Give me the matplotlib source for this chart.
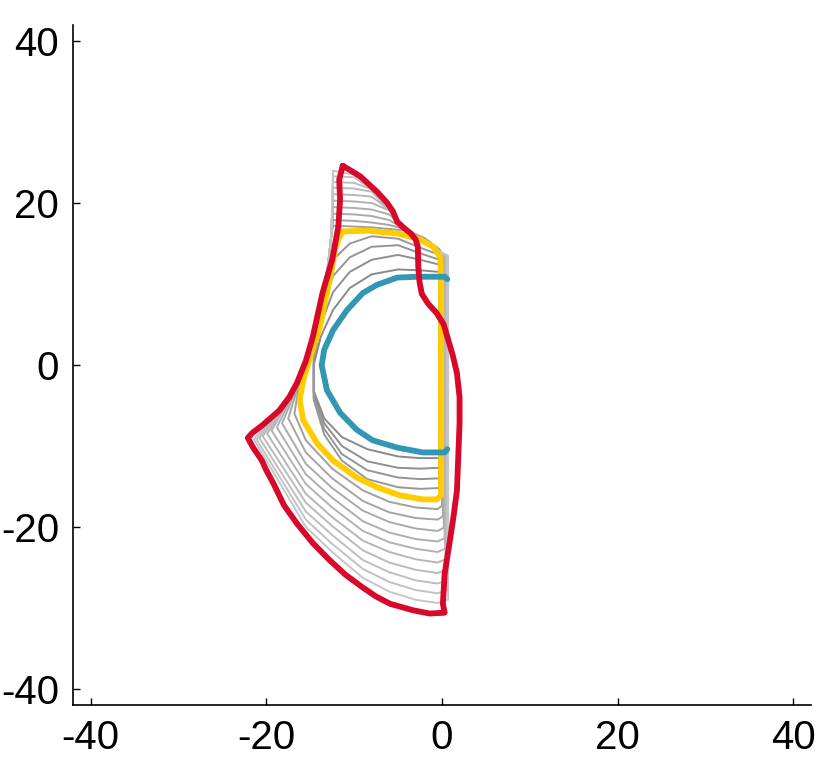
import matplotlib
matplotlib.use("Agg")
import matplotlib.pyplot as plt

plt.rcParams['font.family'] = ['Liberation Sans', 'DejaVu Sans']
plt.rcParams['axes.unicode_minus'] = False

# coloured contours (x, y)
red_x = [-11.3, -10.5, -9.3, -7.4, -6.3, -5.6, -5.1, -4.3, -3.6, -3.0, -2.75, -2.7, -2.55, -2.3, -1.6, -0.6, 0.2, 0.6, 1.2,
         1.7, 2.0, 2.0, 1.7, 1.3, 0.9, 0.3, 0.1, 0.3,
         -1.4, -3.3, -5.9, -7.5, -9.0, -11.0, -12.8, -14.7, -16.5, -18.0, -19.2, -20.0, -20.5, -21.5, -22.1, -21.6, -20.4,
         -18.5, -17.4, -16.5, -15.5, -14.7, -13.6, -12.5, -11.8, -11.6, -11.7, -11.3]
red_y = [24.6, 24.1, 23.3, 21.4, 20.1, 19.0, 17.7, 16.9, 16.3, 15.5, 14.6, 12.1, 10.2, 8.8, 7.6, 6.4, 5.0, 3.5, 1.3,
         -1.0, -4.0, -7.2, -15.5, -18.8, -21.7, -25.8, -29.5, -30.6,
         -30.7, -30.3, -29.5, -28.6, -27.5, -25.9, -24.1, -22.0, -19.6, -17.3, -14.6, -13.0, -11.8, -10.2, -9.0, -8.4, -7.4,
         -5.6, -4.0, -2.2, 0.5, 3.5, 8.9, 13.0, 17.1, 20.4, 22.9, 24.6]

yellow_x = [-11.8, -11.3, -8.5, -4.8, -2.5, -1.0, -0.2, -0.1, -0.1, -0.1, -0.6, -2.2, -4.8, -7.4, -9.7, -12.4, -14.2, -15.8,
            -16.2, -15.8, -15.0, -13.9, -13.1, -12.5, -12.2, -11.8]
yellow_y = [15.5, 16.5, 16.6, 16.2, 15.5, 14.6, 13.3, 10.5, -4.3, -16.1, -16.6, -16.6, -16.1, -15.1, -13.9, -11.8, -9.7, -6.8,
            -4.3, -1.9, 1.0, 4.7, 8.9, 12.1, 14.2, 15.5]

blue_x = [0.6, 0.3, -2.85, -5.1, -7.4, -9.0, -10.8, -12.4, -13.4, -13.7, -13.1, -11.6, -9.7, -7.9, -5.1, -2.2, 0.3, 0.6]
blue_y = [10.6, 10.9, 10.9, 10.8, 9.9, 8.9, 6.8, 4.3, 1.9, 0.0, -3.1, -5.9, -8.0, -9.3, -10.2, -10.8, -10.8, -10.4]

# grey contours between blue and yellow
inner_x = [-0.3, -2.5, -5, -8, -10.5, -12.4, -13.8, -14.6, -14.6, -13.4, -11.4, -8.5, -5, -2.5, -0.3, -0.3]
inner_y = [
    [11.5, 11.7, 11.8, 11.2, 9.5, 6.8, 3.5, 0.0, -3.2, -6.6, -8.9, -10.4, -11.3, -11.5, -11.5, 11.5],
    [12.4, 13.0, 13.6, 13.0, 11.5, 9.0, 5.0, 0.3, -3.6, -7.2, -10.0, -11.9, -12.7, -12.8, -12.7, 12.4],
    [13.0, 13.8, 14.8, 14.6, 13.3, 11.0, 6.0, 0.6, -4.0, -7.9, -11.0, -13.0, -13.9, -14.1, -14.0, 13.0],
    [13.6, 14.5, 15.6, 15.9, 15.0, 13.0, 7.0, 0.8, -4.3, -8.6, -11.8, -14.1, -15.1, -15.3, -15.2, 13.6],
]
inner_colors = ['#8a8a8a', '#8f8f8f', '#949494', '#989898']

# grey contours between yellow and red
top_x = [-12.4, -10, -8, -6, -4, -2, -0.3]
top_y = [
    [17.2, 17.1, 17.0, 16.8, 16.6, 15.7, 14.3],
    [17.9, 17.8, 17.6, 17.3, 16.7, 15.6, 14.3],
    [18.7, 18.6, 18.4, 17.9, 16.6, 15.5, 14.2],
    [19.5, 19.4, 19.2, 18.6, 16.6, 15.4, 14.2],
    [20.3, 20.2, 20.0, 19.1, 16.5, 15.4, 14.1],
    [21.1, 21.0, 20.8, 19.2, 16.5, 15.3, 14.1],
    [21.9, 21.8, 21.4, 19.2, 16.4, 15.3, 14.1],
    [22.6, 22.5, 21.7, 19.2, 16.4, 15.2, 14.0],
    [23.3, 23.2, 21.7, 19.2, 16.4, 15.2, 14.0],
    [24.0, 23.5, 21.7, 19.2, 16.4, 15.1, 14.0],
]
right_x = [0.0, 0.1, 0.2, 0.3, 0.35, 0.4, 0.5, 0.55, 0.6, 0.7]
bot_x = [-0.5, -3, -6, -9, -12.5, -15.5]
bot_y = [
    [-17.8, -17.6, -16.9, -15.5, -12.8, -9.3],
    [-19.1, -18.9, -18.2, -16.8, -14.0, -10.8],
    [-20.5, -20.2, -19.4, -18.0, -15.2, -12.2],
    [-21.8, -21.5, -20.7, -19.3, -16.4, -13.5],
    [-23.1, -22.7, -21.9, -20.5, -17.6, -14.7],
    [-24.4, -24.0, -23.1, -21.7, -18.8, -15.9],
    [-25.7, -25.3, -24.4, -22.9, -19.9, -17.0],
    [-27.0, -26.6, -25.6, -24.1, -21.0, -18.1],
    [-28.2, -27.8, -26.8, -25.2, -22.1, -19.1],
    [-29.4, -29.0, -28.0, -26.3, -23.1, -20.0],
]
corner = [(-16.8, -6.0), (-17.5, -6.6), (-18.2, -7.2), (-18.8, -7.7), (-19.4, -8.1),
          (-19.9, -8.5), (-20.4, -8.8), (-20.8, -9.0), (-21.1, -9.2), (-21.4, -9.2)]
left_x = [-16.2, -14.9, -13.8, -13.0, -12.6]
left_y = [-2.0, 3.0, 8.0, 12.0, 16.0]
outer_colors = ['#a0a0a0', '#a5a5a5', '#aaaaaa', '#aeaeae', '#b2b2b2',
                '#b6b6b6', '#bababa', '#bebebe', '#c2c2c2', '#c6c6c6']

fig = plt.figure(figsize=(8.3, 7.68), dpi=100)
ax = fig.add_axes([73 / 830, 63 / 768, 738 / 830, 680 / 768])

for ys, c in zip(inner_y, inner_colors):
    ax.plot(inner_x, ys, color=c, lw=1.4, solid_joinstyle='round', zorder=2)

for i in range(len(top_y)):
    xs = list(top_x) + [right_x[i]] * 3 + bot_x + [corner[i][0]] + left_x + [top_x[0]]
    ys = list(top_y[i]) + [13.5, 0.0, bot_y[i][0] + 0.4] + bot_y[i] + [corner[i][1]] + left_y + [top_y[i][0]]
    ax.plot(xs, ys, color=outer_colors[i], lw=1.4, solid_joinstyle='round', zorder=2)

ax.plot(yellow_x, yellow_y, color='#ffcc00', lw=4.2, solid_joinstyle='round', solid_capstyle='round', zorder=3)
ax.plot(blue_x, blue_y, color='#3297b4', lw=4.2, solid_joinstyle='round', solid_capstyle='round', zorder=4)
ax.plot(red_x, red_y, color='#d7082a', lw=4.2, solid_joinstyle='round', solid_capstyle='round', zorder=5)

ax.set_xlim(-42, 42)
ax.set_ylim(-42, 42)
ax.set_xticks([-40, -20, 0, 20, 40])
ax.set_yticks([-40, -20, 0, 20, 40])
ax.spines['top'].set_visible(False)
ax.spines['right'].set_visible(False)
for s in ['left', 'bottom']:
    ax.spines[s].set_linewidth(1.2)
ax.tick_params(direction='in', length=5, width=1, labelsize=29, pad=10)

fig.savefig('out.png', dpi=100)
